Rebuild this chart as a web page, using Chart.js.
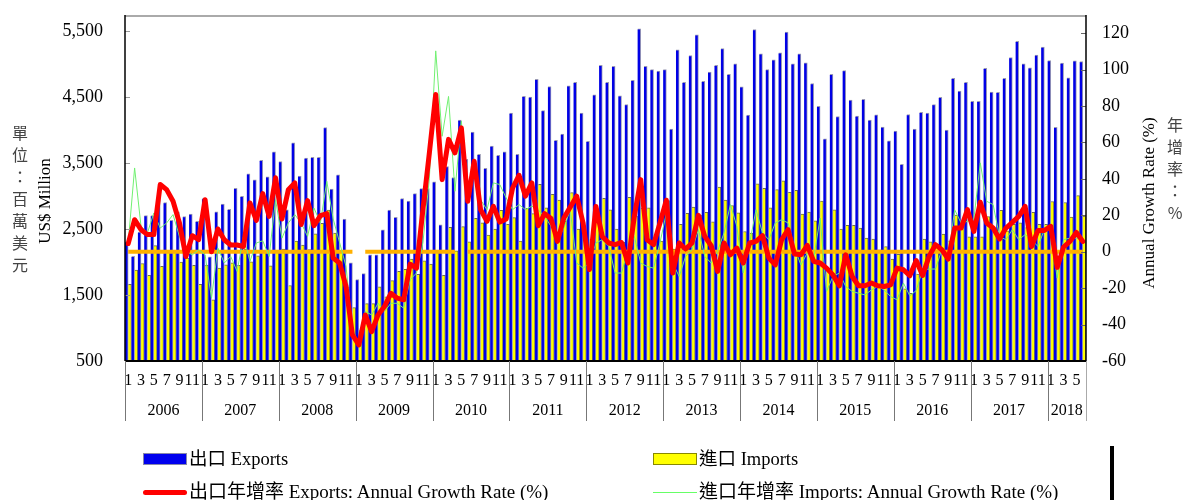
<!DOCTYPE html>
<html lang="zh-Hant">
<head>
<meta charset="UTF-8">
<title>出口及進口</title>
<script src="https://cdn.jsdelivr.net/npm/chart.js"></script>
<style>
  body { margin: 0; background: #fff; }
  #wrap { position: relative; width: 1183px; height: 500px; overflow: hidden;
          font-family: "Liberation Serif", "Noto Sans CJK TC", serif; }
  #chart { position: absolute; left: 0; top: 0; }
  .lg { position: absolute; font-size: 18.5px; line-height: 20px; color: #000; white-space: nowrap; }
  .lg.long { font-size: 19px; }
  .sw { position: absolute; box-sizing: border-box; }
</style>
</head>
<body>
<div id="wrap">
  <canvas id="chart" width="1183" height="500"></canvas>

  <!-- legend -->
  <div class="sw" style="left:143px;top:453px;width:44px;height:12px;background:#0000ee;border:1px solid #8888aa;"></div>
  <div class="lg" style="left:189px;top:449px;">出口 Exports</div>
  <div class="sw" style="left:653px;top:453px;width:44px;height:12px;background:#ffff00;border:1px solid #888800;"></div>
  <div class="lg" style="left:699px;top:449px;">進口 Imports</div>
  <div class="sw" style="left:143px;top:490px;width:44px;height:5px;background:#ff0000;border-radius:3px;"></div>
  <div class="lg long" style="left:189px;top:482px;">出口年增率 Exports: Annual Growth Rate (%)</div>
  <div class="sw" style="left:653px;top:492px;width:44px;height:1px;background:#66ff66;"></div>
  <div class="lg long" style="left:699px;top:482px;">進口年增率 Imports: Annual Growth Rate (%)</div>
  <div class="sw" style="left:1110px;top:446px;width:4px;height:54px;background:#000;"></div>
</div>

<script>
// 年份及月份
const years = [2006, 2007, 2008, 2009, 2010, 2011, 2012, 2013, 2014, 2015, 2016, 2017, 2018];
const lastMonth2018 = 6;

// 出口 (百萬美元)
const exportsData = [
  2310, 2090, 2455, 2705, 2705, 3010, 2905, 2635, 2765, 2690, 2730, 2620,
  2965, 2080, 2765, 2880, 2800, 3120, 3000, 3340, 3250, 3545, 3295, 3675,
  3525, 2795, 3810, 3305, 3580, 3590, 3590, 4040, 3110, 3325, 2655, 1990,
  1735, 1825, 2110, 2110, 2490, 2790, 2680, 2965, 2925, 3040, 3115, 3115,
  3220, 2565, 3450, 3285, 4155, 3560, 3975, 3635, 3425, 3760, 3620, 3675,
  4260, 3635, 4515, 4505, 4775, 4300, 4665, 3850, 3945, 4675, 4730, 4260,
  3835, 4540, 4985, 4730, 4970, 4525, 4390, 4760, 5540, 4970, 4920, 4900,
  4920, 4020, 5220, 4730, 5135, 5450, 4745, 4885, 4985, 5240, 4850, 5010,
  4660, 4230, 5530, 5160, 4920, 5070, 5175, 5490, 5010, 5160, 5025, 4710,
  4365, 3870, 4850, 4210, 4905, 4460, 4215, 4470, 4155, 4235, 4050, 3840,
  3990, 3485, 4240, 4020, 4275, 4260, 4390, 4500, 4005, 4790, 4595, 4730,
  4440, 4440, 4940, 4580, 4575, 4790, 5105, 5350, 5010, 4950, 5140, 5265,
  5060, 4045, 5020, 4795, 5055, 5045
];

// 進口 (百萬美元)
const importsData = [
  1665, 1880, 1980, 1800, 2250, 1935, 2150, 2180, 2000, 2060, 1950, 1665,
  1955, 1430, 1910, 1960, 1990, 1950, 2200, 2005, 2095, 2180, 1945, 2180,
  2200, 1645, 2320, 2260, 2190, 2430, 2590, 2790, 2440, 2150, 1620, 1310,
  960, 1370, 1370, 1625, 1475, 1720, 1860, 1890, 2045, 1815, 2020, 1970,
  2170, 1800, 2530, 2170, 2540, 2310, 2665, 2595, 2410, 2500, 2785, 2575,
  2675, 2320, 2815, 2735, 3180, 2825, 3030, 2940, 2620, 3055, 2500, 2480,
  2345, 2700, 2970, 2795, 2500, 2300, 2985, 2700, 2815, 2825, 2300, 2320,
  2935, 2200, 2575, 2740, 2835, 2715, 2755, 2610, 3140, 2940, 2860, 2750,
  2465, 2440, 3190, 3120, 2825, 3100, 3235, 3060, 3090, 2730, 2760, 2625,
  2925, 1900, 2795, 2500, 2560, 2560, 2515, 2365, 2350, 2185, 2235, 2045,
  2120, 1595, 1525, 1820, 2350, 2310, 2275, 2425, 2325, 2715, 2575, 2385,
  2385, 2385, 2690, 2525, 2785, 2475, 2575, 2595, 2525, 2755, 2575, 2575,
  2920, 2050, 2905, 2685, 3010, 2700
];

// 出口年增率 (%)
const exportsGrowth = [
  4.5, 17.6, 12.1, 9.4, 9.4, 36.9, 34.1, 27.7, 15.8, -2.6, 8.8, 6.6,
  28.6, 0, 12.5, 6.6, 3.7, 3.7, 2.9, 26.8, 17.2, 31.9, 19.4, 40.6,
  18, 34.1, 37.8, 14.9, 28.1, 14.3, 19.8, 20.9, -3.5, -6.2, -19.1, -45.7,
  -51.2, -34.7, -43.9, -34.7, -30.1, -22.8, -25.5, -26.4, -6.8, -9, 23, 54,
  86.4, 39.6, 61.7, 54.3, 68, 27.7, 49.7, 23.1, 16.7, 24.9, 16.3, 18,
  35, 42, 30.5, 37.8, 14.3, 20.9, 18.2, 5.7, 18.5, 24.6, 30.5, 15.8,
  -9.8, 24.9, 8.4, 4.8, 3.9, 5.1, -6.2, 19.4, 39.6, 6.6, 3.9, 15.8,
  28.3, -11.7, 4.8, 1.5, 4.8, 20, 8.4, 3.3, -10.8, 4.8, -1.7, 2,
  -6.2, 4.8, 5.7, 8.8, -3.5, -7.2, 6.6, 12.1, -1.3, -1.7, 3.5, -5.3,
  -6.2, -9, -12.7, -18.7, -1.7, -13.6, -18.7, -18.7, -17.2, -18.7, -19.1, -18.2,
  -9, -9.9, -13.2, -4.8, -13, -2.6, 3.9, 1.1, -4, 13, 13, 23.1,
  11.2, 27.2, 15.8, 13, 7, 13, 16.1, 19.4, 24.9, 2.9, 11.7, 11.7,
  13.9, -8.6, 2.6, 5.7, 10.6, 5.7
];

// 進口年增率 (%)
const importsGrowth = [
  5, 46, 14, 10.3, 21.3, 13, 15.8, 20.4, 8.4, 0.2, -1.7, 1.1,
  -1.7, -25.5, 2, -6.2, -2.6, -10.8, 8.4, -5.3, 4.8, 6, -2.6, 28.6,
  7.5, 15.8, 20.4, 15.8, 8.4, 24, 15.8, 38.7, 18, 5, -8, -43,
  -50, -32.8, -34.7, -28.3, -32.8, -28.3, -28.3, -31, -15.4, -11.7, 5, 40,
  110.3, 63.4, 85.3, 33.2, 71.7, 33, 43, 28.6, 23, 37.8, 36.9, 29.5,
  23.1, 25.9, 23.1, 25, 23, 19.4, 14, 6.6, 13, 23.1, -6.2, -9,
  -6.2, 4.8, 6.6, 2.9, -11.7, -11.7, 1.1, 8.4, -6.2, -8.1, -9, 4.8,
  21.3, -6.2, -13.6, -2.6, 1.1, 12.1, -2.6, -6.2, 0.4, 10.3, 25.9, 14,
  -11.7, 4.8, 23.1, 10.3, 6.6, 15.8, 17.6, 15.8, 2, -7.2, -0.7, -3.5,
  18.5, -21.8, -13.6, -11.7, -19.1, -21.8, -22.8, -23.7, -21, -19.1, -21, -24.6,
  -26.4, -17.2, -24.2, -21.3, -9.9, -9.5, -9.5, 1.1, -3.5, 23.1, 15.8, 16.7,
  18, 48.8, 27.7, 25.9, 8.4, 6.6, 12.1, 6.6, 9.4, 6.6, 2.9, 12.1,
  12.1, -14.5, 6.6, 7.5, 7.5, 6.6
];

// 刻度
const leftTicks = [500, 1500, 2500, 3500, 4500, 5500];
const rightTicks = [-60, -40, -20, 0, 20, 40, 60, 80, 100, 120];
const zeroGaps = [36, 52];   // 零線斷開的月份

// 類別: 每月一格
const labels = [];
const yearStart = [];
years.forEach(y => {
  yearStart.push(labels.length);
  const n = y === 2018 ? lastMonth2018 : 12;
  for (let m = 1; m <= n; m++) labels.push(String(m));
});

const zeroLine = labels.map((_, i) => zeroGaps.includes(i) ? null : 0);

const SERIF = '"Liberation Serif", "Times New Roman", serif';
const CJK = '"Noto Sans CJK TC", sans-serif';

// 固定軸寬, 並去掉刻度文字帶來的上下留白
function fixY(width) {
  return s => { s.width = width; s.paddingTop = 0; s.paddingBottom = 0; };
}

// 邊框、年份、軸標題
const decor = {
  id: 'decor',
  afterDraw(chart) {
    const { ctx, chartArea: a, scales: { x, y, y1 } } = chart;
    const step = (x.getPixelForValue(1) - x.getPixelForValue(0));
    ctx.save();

    function seg(x0, y0, x1, y1_) {
      ctx.beginPath(); ctx.moveTo(x0, y0); ctx.lineTo(x1, y1_); ctx.stroke();
    }

    // 內側刻度
    ctx.lineWidth = 1;
    ctx.strokeStyle = '#999';
    leftTicks.forEach(v => {
      const py = Math.round(y.getPixelForValue(v)) + 0.5;
      seg(a.left, py, a.left + 5, py);
    });
    ctx.strokeStyle = '#666';
    rightTicks.forEach(v => {
      const py = Math.round(y1.getPixelForValue(v)) + 0.5;
      seg(a.right - 5, py, a.right, py);
    });

    // 外框
    ctx.strokeStyle = '#aaa'; ctx.lineWidth = 2;
    seg(a.left, a.top + 1, a.right, a.top + 1);
    ctx.strokeStyle = '#000'; ctx.lineWidth = 1.5;
    seg(a.left, a.top, a.left, a.bottom);
    seg(a.right, a.top, a.right, a.bottom);
    ctx.lineWidth = 2;
    seg(a.left, a.bottom, a.right, a.bottom);

    // 年份分隔線及年份
    ctx.lineWidth = 1;
    ctx.strokeStyle = '#777';
    yearStart.forEach(s => {
      const px = Math.round(x.getPixelForValue(s) - step / 2) + 0.5;
      seg(px, a.bottom, px, a.bottom + 60);
    });
    ctx.strokeStyle = '#aaa';
    seg(Math.round(a.right) + 0.5, a.bottom, Math.round(a.right) + 0.5, a.bottom + 60);

    ctx.fillStyle = '#000';
    ctx.font = '16px ' + SERIF;
    ctx.textAlign = 'center';
    ctx.textBaseline = 'middle';
    years.forEach((yr, k) => {
      const s = yearStart[k];
      const e = (k + 1 < yearStart.length ? yearStart[k + 1] : labels.length) - 1;
      const cx = (x.getPixelForValue(s) + x.getPixelForValue(e)) / 2;
      ctx.fillText(String(yr), cx, a.bottom + 50);
    });

    // 軸標題 (英文)
    ctx.font = '17px ' + SERIF;
    ctx.save();
    ctx.translate(46, 201);
    ctx.rotate(-Math.PI / 2);
    ctx.fillText('US$ Million', 0, 0);
    ctx.restore();
    ctx.save();
    ctx.translate(1150, 203);
    ctx.rotate(-Math.PI / 2);
    ctx.fillText('Annual Growth Rate (%)', 0, 0);
    ctx.restore();

    // 軸標題 (中文直排)
    ctx.fillStyle = '#444';
    ctx.font = '16px ' + CJK;
    '單位：百萬美元'.split('').forEach((ch, i) => ctx.fillText(ch, 20, 133 + i * 22));
    '年增率：%'.split('').forEach((ch, i) => ctx.fillText(ch, 1175, 125 + i * 22));

    ctx.restore();
  }
};

const ctx = document.getElementById('chart').getContext('2d');
new Chart(ctx, {
  type: 'bar',
  data: {
    labels: labels,
    datasets: [
      {
        type: 'line', label: '出口年增率 Exports: Annual Growth Rate (%)',
        data: exportsGrowth, yAxisID: 'y1', order: 0,
        borderColor: '#ff0000', borderWidth: 5, pointRadius: 0, tension: 0,
        borderJoinStyle: 'round', borderCapStyle: 'round'
      },
      {
        type: 'line', label: '進口年增率 Imports: Annual Growth Rate (%)',
        data: importsGrowth, yAxisID: 'y1', order: 1,
        borderColor: '#70f070', borderWidth: 1, pointRadius: 0, tension: 0
      },
      {
        type: 'line', label: 'zero',
        data: zeroLine, yAxisID: 'y1', order: 2, spanGaps: false,
        borderColor: '#ffb000', borderWidth: 4, pointRadius: 0, tension: 0
      },
      {
        label: '出口 Exports', data: exportsData, yAxisID: 'y', order: 3,
        backgroundColor: '#0000e6', borderColor: '#9a9ab4',
        borderWidth: { top: 1, right: 1, left: 0, bottom: 0 },
        barPercentage: 1, categoryPercentage: 1
      },
      {
        label: '進口 Imports', data: importsData, yAxisID: 'y', order: 4,
        backgroundColor: '#ffff00', borderColor: '#6e6e50',
        borderWidth: { top: 1, right: 1, left: 0, bottom: 0 },
        barPercentage: 1, categoryPercentage: 1
      }
    ]
  },
  options: {
    responsive: false,
    animation: false,
    devicePixelRatio: 1,
    layout: { padding: { top: 15, left: 0, right: 0, bottom: 0 } },
    plugins: { legend: { display: false }, tooltip: { enabled: false } },
    scales: {
      x: {
        offset: true,
        grid: { display: false, drawTicks: false },
        border: { display: false },
        ticks: {
          autoSkip: false, maxRotation: 0, minRotation: 0, padding: 10,
          color: '#000', font: { family: SERIF, size: 16 },
          callback: (v, i) => (i % 2 === 0 ? labels[i] : '')
        },
        afterFit: s => { s.height = 139; s.paddingLeft = 0; s.paddingRight = 0; }
      },
      y: {
        position: 'left', min: 500, max: 5750,
        afterBuildTicks: s => { s.ticks = leftTicks.map(v => ({ value: v })); },
        grid: { display: false, drawTicks: false },
        border: { display: false },
        ticks: {
          padding: 22, color: '#000', font: { family: SERIF, size: 18 },
          callback: v => v.toLocaleString('en-US')
        },
        afterFit: fixY(125)
      },
      y1: {
        position: 'right', min: -60, max: 130,
        afterBuildTicks: s => { s.ticks = rightTicks.map(v => ({ value: v })); },
        grid: { display: false, drawTicks: false },
        border: { display: false },
        ticks: { padding: 16, color: '#000', font: { family: SERIF, size: 18 } },
        afterFit: fixY(97)
      }
    }
  },
  plugins: [decor]
});
</script>
</body>
</html>
